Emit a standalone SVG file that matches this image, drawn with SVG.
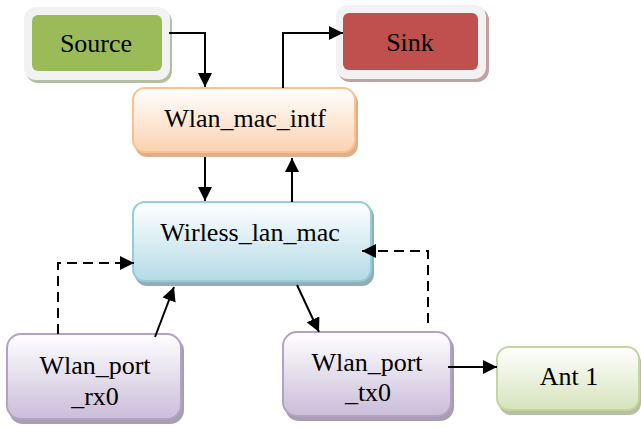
<svg xmlns="http://www.w3.org/2000/svg" width="641" height="428" viewBox="0 0 641 428">
<defs>
<linearGradient id="gOr" x1="0" y1="0" x2="0" y2="1"><stop offset="0" stop-color="#ffffff"/><stop offset="1" stop-color="#fbd2b0"/></linearGradient>
<linearGradient id="gBl" x1="0" y1="0" x2="0" y2="1"><stop offset="0" stop-color="#ffffff"/><stop offset="1" stop-color="#b4dbe6"/></linearGradient>
<linearGradient id="gPu" x1="0" y1="0" x2="0" y2="1"><stop offset="0" stop-color="#ffffff"/><stop offset="1" stop-color="#cabdd9"/></linearGradient>
<linearGradient id="gGr" x1="0" y1="0" x2="0" y2="1"><stop offset="0" stop-color="#ffffff"/><stop offset="1" stop-color="#d6e3bb"/></linearGradient>
<marker id="ah" viewBox="0 0 10 10" refX="10" refY="5" markerWidth="7" markerHeight="7" orient="auto" markerUnits="strokeWidth"><path d="M0,0 L10,5 L0,10 z" fill="#000"/></marker>
</defs>
<style>
.t{font-family:'Liberation Serif','Times New Roman',serif;font-size:26px;fill:#000;text-anchor:middle}
.c{fill:none;stroke:#000;stroke-width:2}
.d{stroke-dasharray:10,6}
</style>
<g id="source">
<rect x="26" y="10" width="146" height="73" rx="12" fill="#b2bfa3"/>
<rect x="24" y="7" width="146" height="73" rx="12" fill="#f2f2f2"/>
<rect x="32" y="15" width="130" height="56" rx="6" fill="#9bbb59"/>
<text class="t" x="96" y="52">Source</text>
</g>
<g id="sink">
<rect x="338" y="8" width="151" height="74" rx="12" fill="#c4a0a1"/>
<rect x="336" y="5" width="150" height="74" rx="12" fill="#f2f2f2"/>
<rect x="343" y="13" width="135" height="57" rx="6" fill="#c0504d"/>
<text class="t" x="410" y="51">Sink</text>
</g>
<g id="wlan_mac_intf">
<rect x="135" y="91" width="223" height="66" rx="12" fill="#dcb08c"/>
<rect x="133" y="88" width="222" height="64" rx="12" fill="url(#gOr)" stroke="#fac090" stroke-width="2"/>
<text class="t" x="245" y="127">Wlan_mac_intf</text>
</g>
<g id="wirless_lan_mac">
<rect x="135" y="205" width="239" height="81" rx="12" fill="#94aeb6"/>
<rect x="133" y="202" width="238" height="79" rx="12" fill="url(#gBl)" stroke="#92cddc" stroke-width="2"/>
<text class="t" x="250" y="241">Wirless_lan_mac</text>
</g>
<g id="wlan_port_rx0">
<rect x="9" y="337" width="175" height="87" rx="14" fill="#a79fb0"/>
<rect x="7" y="334" width="174" height="85" rx="14" fill="url(#gPu)" stroke="#b3a2c7" stroke-width="2"/>
<text class="t" x="95" y="374">Wlan_port</text>
<text class="t" x="95" y="405">_rx0</text>
</g>
<g id="wlan_port_tx0">
<rect x="285" y="335" width="169" height="86" rx="14" fill="#a79fb0"/>
<rect x="283" y="332" width="168" height="84" rx="14" fill="url(#gPu)" stroke="#b3a2c7" stroke-width="2"/>
<text class="t" x="367" y="371">Wlan_port</text>
<text class="t" x="368" y="401">_tx0</text>
</g>
<g id="ant1">
<rect x="499" y="350" width="142" height="65" rx="12" fill="#b7bfa6"/>
<rect x="497" y="347" width="142" height="63" rx="12" fill="url(#gGr)" stroke="#c3d69b" stroke-width="2"/>
<text class="t" x="569" y="385">Ant 1</text>
</g>
<g id="connectors">
<path class="c" d="M169,33 H205 V87" marker-end="url(#ah)"/>
<path class="c" d="M283,88 V33 H343" marker-end="url(#ah)"/>
<path class="c" d="M205,157 V201" marker-end="url(#ah)"/>
<path class="c" d="M292,202 V158" marker-end="url(#ah)"/>
<path class="c d" d="M58,334 V263 H134" marker-end="url(#ah)"/>
<path class="c" d="M155,337 L174,287" marker-end="url(#ah)"/>
<path class="c" d="M297,285 L319,332" marker-end="url(#ah)"/>
<path class="c d" d="M428,323 V251 H362" marker-end="url(#ah)"/>
<path class="c" d="M448,367 H497" marker-end="url(#ah)"/>
</g>
</svg>
